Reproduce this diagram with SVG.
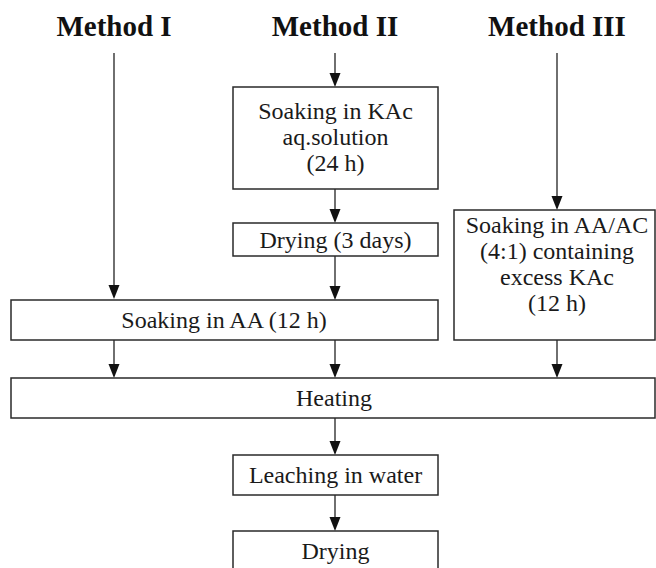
<svg xmlns="http://www.w3.org/2000/svg" width="656" height="568" viewBox="0 0 656 568">
<style>
.box{fill:#fff;stroke:#2a2a2a;stroke-width:1.5}
.t{font-family:"Liberation Serif","Times New Roman",serif;font-size:24px;fill:#1a1a1a;text-anchor:middle}
.h{font-family:"Liberation Serif","Times New Roman",serif;font-size:29px;font-weight:bold;fill:#111;text-anchor:middle}
.ln{stroke:#333;stroke-width:1.4;fill:none}
</style>
<rect width="656" height="568" fill="#fff"/>
<g id="titles">
<text class="h" x="114" y="36">Method I</text>
<text class="h" x="335" y="36">Method II</text>
<text class="h" x="557" y="36">Method III</text>
</g>
<g id="connectors">
<path class="ln" d="M114,53 V288"/>
<path class="ln" d="M335,53 V76"/>
<path class="ln" d="M557,53 V199"/>
<path class="ln" d="M335,189 V212"/>
<path class="ln" d="M335,256 V289"/>
<path class="ln" d="M114,340 V367"/>
<path class="ln" d="M335,340 V367"/>
<path class="ln" d="M557,340 V367"/>
<path class="ln" d="M335,418 V444"/>
<path class="ln" d="M335,495 V520"/>
<g fill="#111">
<path d="M108.5,285 L119.5,285 L114,299 Z"/>
<path d="M329.5,73 L340.5,73 L335,87 Z"/>
<path d="M551.5,196 L562.5,196 L557,210 Z"/>
<path d="M329.5,209 L340.5,209 L335,223 Z"/>
<path d="M329.5,286 L340.5,286 L335,300 Z"/>
<path d="M108.5,364 L119.5,364 L114,378 Z"/>
<path d="M329.5,364 L340.5,364 L335,378 Z"/>
<path d="M551.5,364 L562.5,364 L557,378 Z"/>
<path d="M329.5,441 L340.5,441 L335,455 Z"/>
<path d="M329.5,517 L340.5,517 L335,531 Z"/>
</g>
</g>
<g id="n-kac">
<rect class="box" x="233" y="87" width="205" height="102"/>
<text class="t" x="335.5" y="119">Soaking in KAc</text>
<text class="t" x="335.5" y="145">aq.solution</text>
<text class="t" x="335.5" y="171">(24 h)</text>
</g>
<g id="n-dry3">
<rect class="box" x="233" y="223" width="205" height="33"/>
<text class="t" x="335.5" y="248">Drying (3 days)</text>
</g>
<g id="n-aaac">
<rect class="box" x="454" y="210" width="201" height="130"/>
<text class="t" x="557" y="233">Soaking in AA/AC</text>
<text class="t" x="557" y="259">(4:1) containing</text>
<text class="t" x="557" y="285">excess KAc</text>
<text class="t" x="557" y="311">(12 h)</text>
</g>
<g id="n-aa">
<rect class="box" x="11" y="300" width="427" height="40"/>
<text class="t" x="224" y="328">Soaking in AA (12 h)</text>
</g>
<g id="n-heat">
<rect class="box" x="11" y="378" width="644" height="40"/>
<text class="t" x="334" y="406">Heating</text>
</g>
<g id="n-leach">
<rect class="box" x="233" y="455" width="205" height="40"/>
<text class="t" x="335.5" y="483">Leaching in water</text>
</g>
<g id="n-dry">
<rect class="box" x="233" y="531" width="205" height="42"/>
<text class="t" x="335.5" y="559">Drying</text>
</g>
</svg>
